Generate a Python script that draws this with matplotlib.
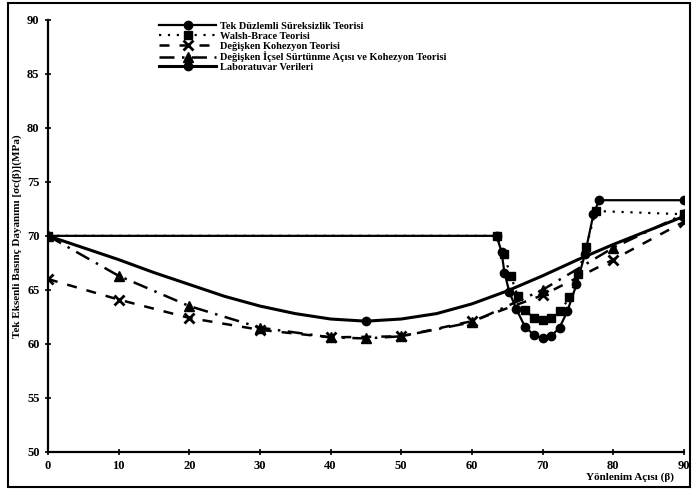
import matplotlib.pyplot as plt
from matplotlib.patches import Rectangle

# Tek Duzlemli Sureksizlik Teorisi
tek_x = [0, 63.5, 64.2, 64.6, 65.3, 66.3, 67.5, 68.8, 70, 71.2, 72.4, 73.5, 74.8, 76, 77.2, 78, 90]
tek_y = [70, 70, 68.5, 66.6, 64.8, 63.2, 61.6, 60.8, 60.5, 60.7, 61.5, 63.0, 65.5, 68.3, 72.0, 73.3, 73.3]

# Walsh-Brace Teorisi
wb_x = [0, 63.5, 64.5, 65.5, 66.5, 67.5, 68.8, 70, 71.2, 72.5, 73.8, 75, 76.2, 77.5, 90]
wb_y = [70, 70, 68.3, 66.3, 64.4, 63.1, 62.4, 62.2, 62.4, 63.0, 64.3, 66.5, 69.0, 72.3, 72.0]

# Degisken Kohezyon Teorisi
koh_x = [0, 10, 20, 30, 40, 50, 60, 70, 80, 90]
koh_y = [66.0, 64.1, 62.4, 61.3, 60.6, 60.7, 62.1, 64.5, 67.8, 71.3]

# Degisken Icsel Surtunme Acisi ve Kohezyon Teorisi
ics_x = [0, 10, 20, 30, 40, 45, 50, 60, 70, 80, 90]
ics_y = [70.0, 66.3, 63.5, 61.5, 60.6, 60.5, 60.7, 62.0, 65.0, 68.9, 72.0]

# Laboratuvar Verileri (markers only at 0, 45, 90)
lab_x = [0, 5, 10, 15, 20, 25, 30, 35, 40, 45, 50, 55, 60, 65, 70, 75, 80, 85, 90]
lab_y = [70.0, 68.9, 67.8, 66.6, 65.5, 64.4, 63.5, 62.8, 62.3, 62.1, 62.3, 62.8, 63.7, 64.9,
         66.3, 67.8, 69.2, 70.5, 71.8]
lab_marks = [0, 9, 18]

labels = ["Tek Düzlemli Süreksizlik Teorisi",
          "Walsh-Brace Teorisi",
          "Değişken Kohezyon Teorisi",
          "Değişken İçsel Sürtünme Açısı ve Kohezyon Teorisi",
          "Laboratuvar Verileri"]

plt.rcParams['font.family'] = ['Liberation Serif', 'DejaVu Serif']

fig = plt.figure(figsize=(6.95, 4.96), dpi=100)
ax = fig.add_axes([0.069, 0.089, 0.915, 0.871])

ax.plot(tek_x, tek_y, color="black", lw=1.6, marker="o", ms=6, label=labels[0])
ax.plot(wb_x, wb_y, color="black", lw=1.6, ls=(0, (1, 3)), marker="s", ms=6, label=labels[1])
ax.plot(koh_x, koh_y, color="black", lw=1.8, ls=(0, (4, 4)), marker="x", ms=7, mew=2, label=labels[2])
ax.plot(ics_x, ics_y, color="black", lw=1.8, ls=(0, (6, 3, 1, 3)), marker="^", ms=7, label=labels[3])
ax.plot(lab_x, lab_y, color="black", lw=2.2, marker="o", ms=6,
        markevery=lab_marks, label=labels[4])

ax.set_xlim(0, 90)
ax.set_ylim(50, 90)
ax.set_xticks(range(0, 91, 10))
ax.set_yticks(range(50, 91, 5))
ax.tick_params(direction="inout", length=5, width=1.2, labelsize=9)
for t in ax.get_xticklabels() + ax.get_yticklabels():
    t.set_fontweight("bold")
ax.spines["top"].set_visible(False)
ax.spines["right"].set_visible(False)
ax.spines["left"].set_linewidth(1.6)
ax.spines["bottom"].set_linewidth(1.6)

ax.set_ylabel("Tek Eksenli Basınç Dayanımı [σc(β)](MPa)", fontsize=8, fontweight="bold", labelpad=4)
ax.text(0.915, -0.058, "Yönlenim Açısı (β)", transform=ax.transAxes, fontsize=8,
        fontweight="bold", ha="center", va="center")

leg = ax.legend(loc="upper left", bbox_to_anchor=(0.165, 1.01), frameon=False,
                fontsize=7.5, handlelength=5.5, labelspacing=0.05, handletextpad=0.3,
                borderpad=0.1)
for t in leg.get_texts():
    t.set_fontweight("bold")

fig.patches.append(Rectangle((0.012, 0.018), 0.981, 0.976, transform=fig.transFigure,
                             fill=False, lw=1.5, ec="black"))

fig.savefig("out.png", dpi=100)
